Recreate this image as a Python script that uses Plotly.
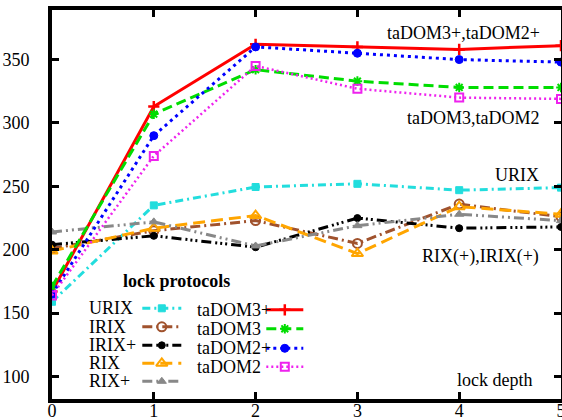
import plotly.graph_objects as go

# ---------------- data ----------------
lock_depth = [0, 1, 2, 3, 4, 5]

URIX = [159, 235, 249.5, 252, 247, 249]
IRIX = [201, 215, 223, 205, 236, 226]
IRIX_P = [204, 211, 202, 225, 217, 218]
RIX = [199, 217, 227, 197, 234, 228]
RIX_P = [214, 222, 203, 219, 228, 223]
taDOM3_P = [167, 313, 362, 360, 358, 361]
taDOM3 = [171, 307, 342, 333, 328, 328]
taDOM2_P = [165, 290, 360, 355, 350, 348]
taDOM2 = [164, 274, 345, 327, 320, 319]

y_ticks = [100, 150, 200, 250, 300, 350]
x_ticks = [0, 1, 2, 3, 4, 5]

FONT = "Liberation Serif"

# ---------------- styles ----------------
series = [
    ("URIX", URIX, "#22dddd", "8px,4px,2px,4px", "square", 7, 1),
    ("IRIX", IRIX, "#a0522d", "10px,4px,2px,4px", "circle-open", 9, 2),
    ("IRIX+", IRIX_P, "#000000", "10px,4px,2px,3px,2px,3px,2px,4px", "circle", 7, 1),
    ("RIX", RIX, "#ffa500", "12px,6px", "triangle-up-open", 10, 2),
    ("RIX+", RIX_P, "#888888", "10px,4px,2px,4px,2px,4px", "triangle-up", 8, 1),
    ("taDOM3+", taDOM3_P, "#ff0000", "solid", "cross-thin", 8, 2.5),
    ("taDOM3", taDOM3, "#00dd00", "10px,5px", "asterisk", 8, 2),
    ("taDOM2+", taDOM2_P, "#0000ff", "3px,4px", "circle", 8, 1),
    ("taDOM2", taDOM2, "#ee22ee", "2px,3px", "square-open", 8, 2),
]

fig = go.Figure()

for name, vals, color, dash, sym, msize, mlw in series:
    fig.add_trace(go.Scatter(
        x=lock_depth, y=vals, mode="lines+markers", name=name,
        line=dict(color=color, width=3 if name != "taDOM2" else 2.5, dash=dash),
        marker=dict(symbol=sym, size=msize, color=color,
                    line=dict(color=color, width=mlw)),
        showlegend=False, xaxis="x", yaxis="y",
    ))

# ---------------- manual legend (pixel-like overlay axes) ----------------
PX_L, PX_R, PX_T, PX_B = 51.7, 560.7, 9.7, 398.7
col1_text_x, col1_s0, col1_s1 = 87, 142, 181
col2_text_x, col2_s0, col2_s1 = 195, 266, 303
col1_rows = [308, 326.5, 345, 363, 381]
col2_rows = [309.5, 328.5, 348, 366.5]

rows = [(col1_text_x, col1_s0, col1_s1, r) for r in col1_rows] + \
       [(col2_text_x, col2_s0, col2_s1, r) for r in col2_rows]

annotations = []
for (tx, s0, s1, ry), (name, vals, color, dash, sym, msize, mlw) in zip(rows, series):
    fig.add_trace(go.Scatter(
        x=[s0, s1], y=[ry, ry], mode="lines",
        line=dict(color=color, width=3 if name != "taDOM2" else 2.5, dash=dash),
        showlegend=False, xaxis="x2", yaxis="y2", hoverinfo="skip",
    ))
    fig.add_trace(go.Scatter(
        x=[(s0 + s1) / 2], y=[ry], mode="markers",
        marker=dict(symbol=sym, size=msize, color=color,
                    line=dict(color=color, width=mlw)),
        showlegend=False, xaxis="x2", yaxis="y2", hoverinfo="skip",
    ))
    annotations.append(dict(x=tx, y=ry, xref="x2", yref="y2", text=name,
                            showarrow=False, xanchor="left", yanchor="middle",
                            font=dict(family=FONT, size=18, color="black")))

annotations.append(dict(x=176, y=281, xref="x2", yref="y2", text="<b>lock protocols</b>",
                        showarrow=False, xanchor="center", yanchor="middle",
                        font=dict(family=FONT, size=18, color="black")))

labels = [
    ("taDOM3+,taDOM2+", 542, 33),
    ("taDOM3,taDOM2", 542, 118),
    ("URIX", 541, 175),
    ("RIX(+),IRIX(+)", 541, 256),
    ("lock depth", 534, 380),
]
for txt, lx, ly in labels:
    annotations.append(dict(x=lx, y=ly, xref="x2", yref="y2", text=txt,
                            showarrow=False, xanchor="right", yanchor="middle",
                            font=dict(family=FONT, size=18, color="black")))

axis_common = dict(showgrid=False, zeroline=False, showline=True, linecolor="black",
                   linewidth=4, ticks="inside", ticklen=7, tickwidth=3,
                   tickcolor="black", mirror="ticks", automargin=False,
                   ticklabeloverflow="allow",
                   tickfont=dict(family=FONT, size=18, color="black"))

fig.update_layout(
    template="none",
    width=562, height=420,
    margin=dict(l=52, r=1, t=10, b=21),
    paper_bgcolor="white", plot_bgcolor="white",
    font=dict(family=FONT, size=18, color="black"),
    xaxis=dict(range=[0, 5], tickvals=x_ticks, ticklabelstandoff=-8, **axis_common),
    yaxis=dict(range=[82.3, 389.1], tickvals=y_ticks, ticklabelstandoff=15, **axis_common),
    xaxis2=dict(range=[PX_L, PX_R], overlaying="x", visible=False, fixedrange=True),
    yaxis2=dict(range=[PX_B, PX_T], overlaying="y", visible=False, fixedrange=True),
    annotations=annotations,
    showlegend=False,
)

fig.write_html("out.html", config={"displayModeBar": False},
               post_script="document.body.style.margin='0';document.body.style.overflow='hidden';")
